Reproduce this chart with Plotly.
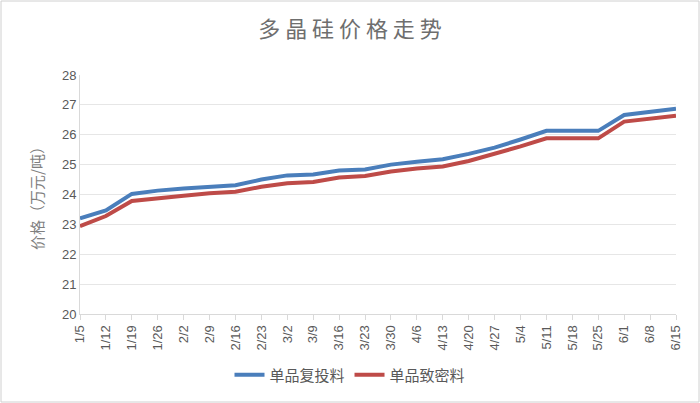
import plotly.graph_objects as go

dates = ["1/5", "1/12", "1/19", "1/26", "2/2", "2/9", "2/16", "2/23", "3/2", "3/9",
         "3/16", "3/23", "3/30", "4/6", "4/13", "4/20", "4/27", "5/4", "5/11", "5/18",
         "5/25", "6/1", "6/8", "6/15"]
futou = [23.2, 23.47, 24.02, 24.13, 24.2, 24.27, 24.31, 24.5, 24.64, 24.67,
         24.8, 24.84, 25.0, 25.1, 25.18, 25.36, 25.57, 25.84, 26.13, 26.13,
         26.13, 26.66, 26.76, 26.87]
zhimi = [22.94, 23.28, 23.78, 23.88, 23.96, 24.04, 24.09, 24.26, 24.38, 24.42,
         24.57, 24.62, 24.77, 24.87, 24.94, 25.12, 25.35, 25.61, 25.88, 25.88,
         25.88, 26.44, 26.53, 26.64]
series_names = ["单品复投料", "单品致密料"]
y_ticks = [20, 21, 22, 23, 24, 25, 26, 27, 28]

W, H = 700, 403
ML, MR, MT, MB = 80, 24, 75, 89
CJK = "Noto Sans CJK SC"

fig = go.Figure()
fig.add_trace(go.Scatter(x=dates, y=futou, mode="lines", name=series_names[0],
                         line=dict(color="#4A7EBB", width=4)))
fig.add_trace(go.Scatter(x=dates, y=zhimi, mode="lines", name=series_names[1],
                         line=dict(color="#BE4B48", width=4)))

pw = W - ML - MR
ph = H - MT - MB
def px_x(p):
    return (p - ML) / pw
def px_y(p):
    return (H - MB - p) / ph

fig.update_layout(
    width=W, height=H,
    margin=dict(l=ML, r=MR, t=MT, b=MB),
    paper_bgcolor="white", plot_bgcolor="white",
    title=dict(text="多 晶 硅 价 格 走 势", x=0.5, xanchor="center", y=1 - 29 / H, yanchor="middle",
               font=dict(family=CJK, size=22, color="#6E6E6E")),
    showlegend=True,
    legend=dict(orientation="h", x=px_x(350), xanchor="center", y=px_y(375), yanchor="middle",
                font=dict(family=CJK, size=15, color="#595959"),
                itemwidth=30, tracegroupgap=0),
    xaxis=dict(type="category", range=[0, len(dates) - 1], showgrid=False,
               showline=True, linecolor="#D9D9D9", linewidth=1,
               ticks="outside", ticklen=5, tickcolor="#D9D9D9",
               tickangle=-90, tickfont=dict(family="Liberation Sans", size=13, color="#595959"),
               zeroline=False),
    yaxis=dict(range=[20, 28], tickvals=y_ticks, showgrid=True, gridcolor="#E6E6E6",
               gridwidth=1, showline=True, linecolor="#D9D9D9", zeroline=False,
               ticks="", tickfont=dict(family="Liberation Sans", size=13, color="#595959"),
               title=dict(text="价格（万元/吨）", font=dict(family=CJK, size=15, color="#7F7F7F"),
                          standoff=14)),
    shapes=[dict(type="rect", xref="paper", yref="paper",
                 x0=px_x(1), x1=px_x(W - 1), y0=px_y(H - 1), y1=px_y(1),
                 line=dict(color="#D0D0D0", width=1), layer="below")],
)

fig.write_html("out.html", config={"displayModeBar": False},
               post_script="document.body.style.margin='0px';")
